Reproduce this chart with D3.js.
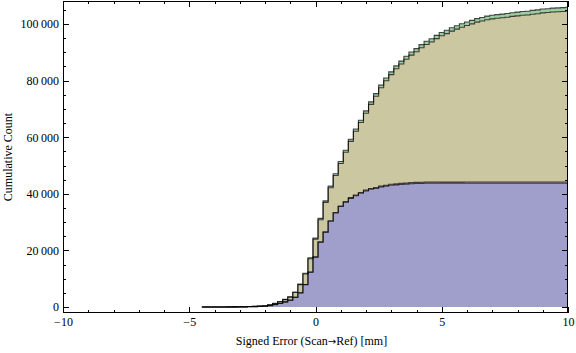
<!DOCTYPE html>
<html>
<head>
<meta charset="utf-8">
<script src="https://cdn.jsdelivr.net/npm/d3@7"></script>
<style>
  body { margin: 0; background: #fff; }
  svg { display: block; font-family: 'Liberation Serif', 'Times New Roman', serif; }
</style>
</head>
<body>
<div id="chart"></div>
<script>
// bin centres of the cumulative histogram (bin width 0.2 mm)
var binCenters = [-4.4, -4.2, -4.0, -3.8, -3.6, -3.4, -3.2, -3.0, -2.8, -2.6,
  -2.4, -2.2, -2.0, -1.8, -1.6, -1.4, -1.2, -1.0, -0.8, -0.6,
  -0.4, -0.2, 0, 0.2, 0.4, 0.6, 0.8, 1.0, 1.2, 1.4,
  1.6, 1.8, 2.0, 2.2, 2.4, 2.6, 2.8, 3.0, 3.2, 3.4,
  3.6, 3.8, 4.0, 4.2, 4.4, 4.6, 4.8, 5.0, 5.2, 5.4,
  5.6, 5.8, 6.0, 6.2, 6.4, 6.6, 6.8, 7.0, 7.2, 7.4,
  7.6, 7.8, 8.0, 8.2, 8.4, 8.6, 8.8, 9.0, 9.2, 9.4,
  9.6, 9.8, 10.0]
var binWidth = 0.2

// cumulative counts per series (stacked bottom to top)
var blueCounts = [3, 5, 7, 10, 14, 20, 28, 40, 55, 90,
  140, 200, 260, 500, 850, 1250, 1800, 2400, 3400, 5000,
  7900, 12300, 17600, 22900, 26400, 30300, 33200, 35500, 37000, 38400,
  39300, 40200, 41000, 41600, 41900, 42400, 42700, 43000, 43150, 43300,
  43400, 43550, 43650, 43700, 43710, 43720, 43720, 43730, 43730, 43740,
  43740, 43740, 43750, 43750, 43750, 43750, 43750, 43750, 43750, 43750,
  43750, 43750, 43750, 43750, 43750, 43750, 43750, 43750, 43750, 43750,
  43750, 43750, 43750]
var pinkCounts = [0, 0, 0, 0, 0, 0, 0, 1, 1, 2,
  3, 5, 7, 10, 14, 18, 24, 30, 40, 50,
  65, 80, 100, 120, 140, 160, 180, 200, 220, 240,
  255, 270, 285, 300, 315, 330, 340, 350, 360, 370,
  378, 385, 390, 395, 400, 400, 400, 400, 400, 400,
  400, 400, 400, 400, 400, 400, 400, 400, 400, 400,
  400, 400, 400, 400, 400, 400, 400, 400, 400, 400,
  400, 400, 400]
var yellowCounts = [2, 3, 5, 8, 11, 15, 21, 27, 41, 63,
  99, 133, 165, 260, 391, 572, 796, 1060, 1710, 2850,
  3675, 4690, 6300, 7820, 10440, 11660, 13090, 15020, 17460, 19900,
  22545, 24700, 27155, 29710, 32265, 34720, 36885, 38750, 40670, 42190,
  43762, 45085, 46160, 47490, 48660, 49535, 50720, 51695, 52480, 53360,
  54050, 54740, 55320, 55910, 56500, 56890, 57380, 57670, 57860, 58050,
  58245, 58540, 58730, 58920, 59015, 59310, 59500, 59795, 59890, 60085,
  60180, 60275, 60370]
var greenCounts = [0, 0, 0, 0, 0, 0, 1, 2, 3, 5,
  8, 12, 18, 30, 45, 60, 80, 110, 150, 200,
  260, 330, 400, 460, 520, 580, 630, 680, 720, 760,
  800, 830, 860, 890, 920, 950, 975, 1000, 1020, 1040,
  1060, 1080, 1100, 1115, 1130, 1145, 1160, 1175, 1190, 1200,
  1210, 1220, 1230, 1240, 1250, 1260, 1270, 1280, 1290, 1300,
  1305, 1310, 1320, 1330, 1335, 1340, 1350, 1355, 1360, 1365,
  1370, 1375, 1380]

var xTickValues = [-10, -5, 0, 5, 10]
var xTickLabels = ['\u221210', '\u22125', '0', '5', '10']
var yTickValues = [0, 20000, 40000, 60000, 80000, 100000]
var yTickLabels = ['0', '20\u2009000', '40\u2009000', '60\u2009000', '80\u2009000', '100\u2009000']

var layers = ['blue', 'pink', 'yellow', 'green']
var colors = { blue: '#a09fcc', pink: '#cca0bb', yellow: '#cbc7a0', green: '#9ecca3' }

// set the dimensions and margins of the graph
var W = 576
var H = 353
var margin = { top: 1, right: 8, bottom: 40, left: 63 }
var width = W - margin.left - margin.right
var height = H - margin.top - margin.bottom

var svg = d3.select('#chart')
  .append('svg')
  .attr('width', W)
  .attr('height', H)
  .append('g')
  .attr('transform', 'translate(' + margin.left + ',' + margin.top + ')')

var x = d3.scaleLinear().domain([-10, 10]).range([0, width])
var y = d3.scaleLinear().domain([-2120, 108130]).range([height, 0])

// rows keyed by the left edge of each bin, plus a closing row at the last right edge
var rows = binCenters.map(function (c, i) {
  return { x: c - binWidth / 2, blue: blueCounts[i], pink: pinkCounts[i], yellow: yellowCounts[i], green: greenCounts[i] }
})
var last = rows[rows.length - 1]
rows.push(Object.assign({}, last, { x: binCenters[binCenters.length - 1] + binWidth / 2 }))

var stacked = d3.stack().keys(layers)(rows)

svg.append('clipPath').attr('id', 'clip')
  .append('rect').attr('width', width).attr('height', height)

var plot = svg.append('g').attr('clip-path', 'url(#clip)')

var area = d3.area()
  .x(function (d) { return x(d.data.x) })
  .y0(function (d) { return y(d[0]) })
  .y1(function (d) { return y(d[1]) })
  .curve(d3.curveStepAfter)

plot.selectAll('path.layer')
  .data(stacked)
  .enter()
  .append('path')
  .attr('class', 'layer')
  .attr('d', area)
  .style('fill', function (d) { return colors[d.key] })

// dark outline along the top of every layer
var topLine = d3.line()
  .x(function (d) { return x(d.data.x) })
  .y(function (d) { return y(d[1]) })
  .curve(d3.curveStepAfter)

plot.selectAll('path.edge')
  .data(stacked)
  .enter()
  .append('path')
  .attr('class', 'edge')
  .attr('d', topLine)
  .style('fill', 'none')
  .style('stroke', '#000')
  .style('stroke-opacity', 0.7)
  .style('stroke-width', 1.1)

// ticks, inward on all four sides
var xMinor = d3.range(-10, 11, 1)
var yMinor = d3.range(0, 108001, 5000)

function addAxis (maker, scale, tr, major, minor, labels) {
  var gMin = svg.append('g').attr('transform', tr)
    .call(maker(scale).tickValues(minor).tickSize(-3).tickFormat(''))
  var gMaj = svg.append('g').attr('transform', tr)
    .call(maker(scale).tickValues(major).tickSize(-6).tickPadding(4)
      .tickFormat(function (d, i) { return labels ? labels[i] : '' }))
  ;[gMin, gMaj].forEach(function (g) {
    g.select('.domain').remove()
    g.selectAll('line').attr('stroke', '#000').attr('shape-rendering', 'crispEdges')
    g.selectAll('text').attr('fill', '#000').style('font-size', '12px')
      .style('font-family', "'Liberation Serif', 'Times New Roman', serif")
  })
}

addAxis(d3.axisBottom, x, 'translate(0,' + height + ')', xTickValues, xMinor, xTickLabels)
addAxis(d3.axisTop, x, 'translate(0,0)', xTickValues, xMinor, null)
addAxis(d3.axisLeft, y, 'translate(0,0)', yTickValues, yMinor, yTickLabels)
addAxis(d3.axisRight, y, 'translate(' + width + ',0)', yTickValues, yMinor, null)

// frame
svg.append('rect')
  .attr('x', 0.5).attr('y', 0.5)
  .attr('width', width - 1).attr('height', height - 1)
  .style('fill', 'none')
  .style('stroke', '#000')
  .style('stroke-width', 1)

// axis titles
var xTitle = svg.append('text')
  .attr('x', width / 2 - 4)
  .attr('y', height + 32)
  .attr('text-anchor', 'middle')
  .style('font-size', '12px')
xTitle.append('tspan').text('Signed Error (Scan')
xTitle.append('tspan').style('font-family', "'DejaVu Sans', sans-serif").style('font-size', '10px').text('\u2192')
xTitle.append('tspan').text('Ref) [mm]')

svg.append('text')
  .attr('transform', 'translate(' + (12 - margin.left) + ',' + 156 + ') rotate(-90)')
  .attr('text-anchor', 'middle')
  .style('font-size', '12px')
  .text('Cumulative Count')
</script>
</body>
</html>
